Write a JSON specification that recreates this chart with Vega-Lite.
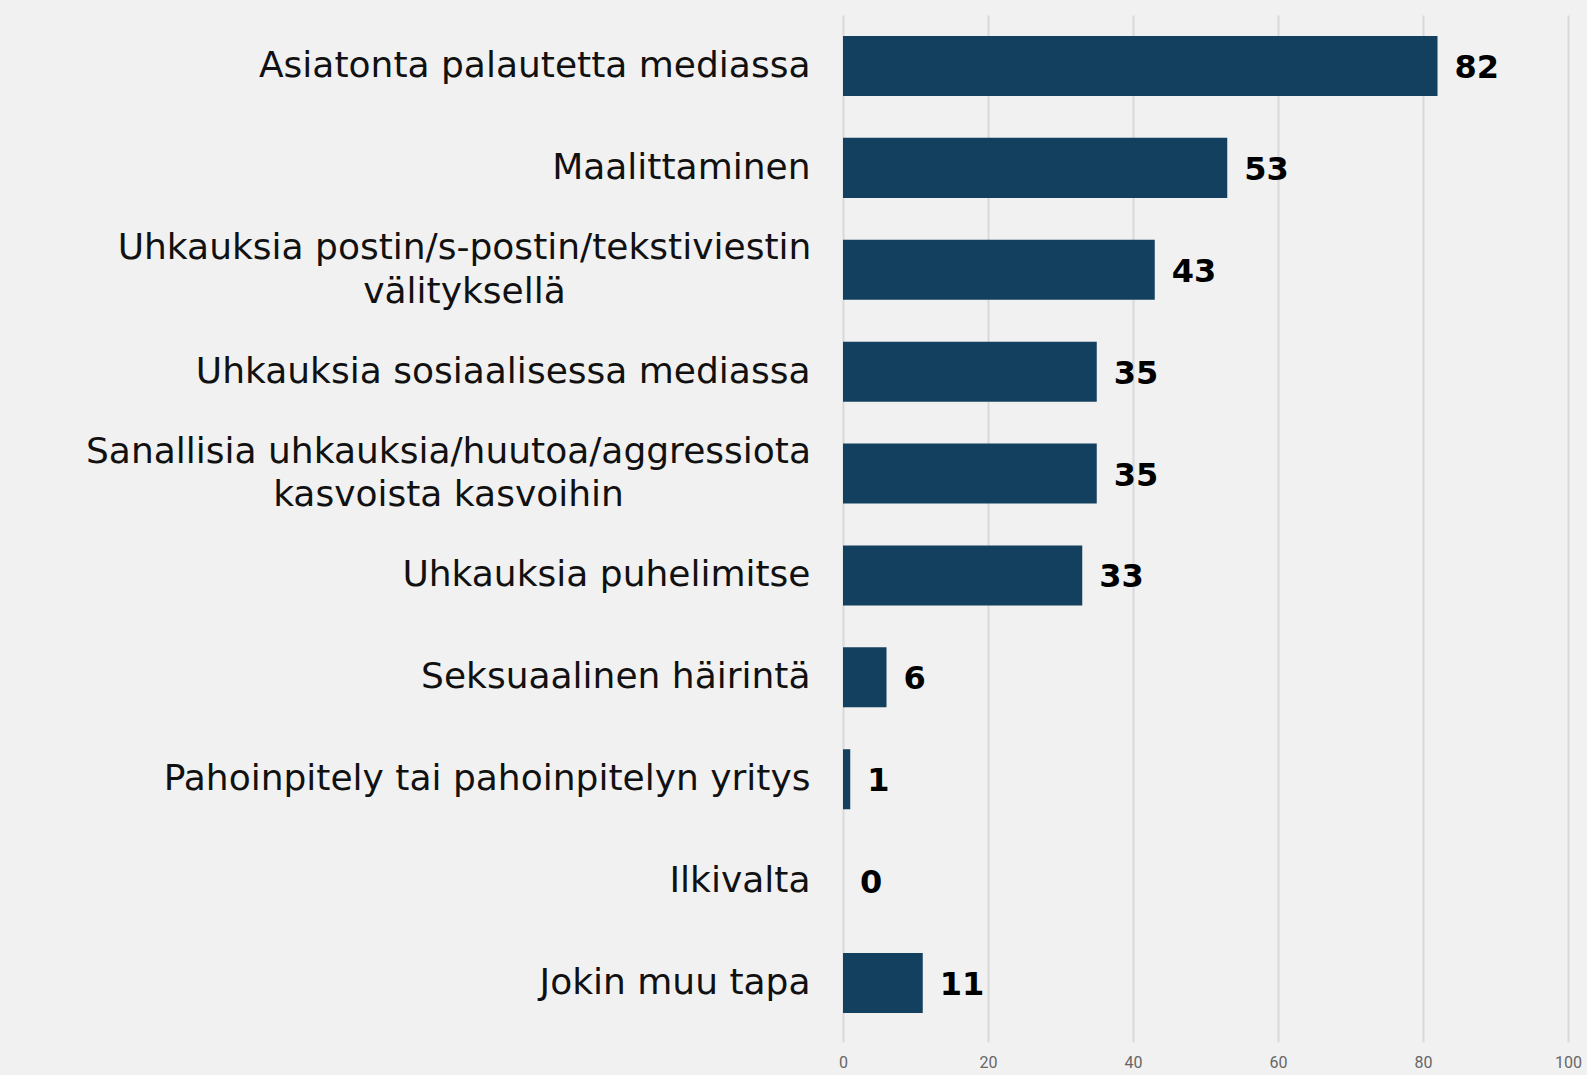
{
  "$schema": "https://vega.github.io/schema/vega-lite/v6.json",
  "width": 725,
  "height": 1027,
  "autosize": {"type": "none"},
  "padding": {"left": 843, "top": 15, "right": 19, "bottom": 33},
  "background": "#f1f1f1",
  "config": {"view": {"stroke": null}},
  "data": {
    "values": [
      {"kategoria": "Asiatonta palautetta mediassa", "arvo": 82},
      {"kategoria": "Maalittaminen", "arvo": 53},
      {"kategoria": "Uhkauksia postin/s-postin/tekstiviestin|välityksellä", "arvo": 43},
      {"kategoria": "Uhkauksia sosiaalisessa mediassa", "arvo": 35},
      {"kategoria": "Sanallisia uhkauksia/huutoa/aggressiota|kasvoista kasvoihin", "arvo": 35},
      {"kategoria": "Uhkauksia puhelimitse", "arvo": 33},
      {"kategoria": "Seksuaalinen häirintä", "arvo": 6},
      {"kategoria": "Pahoinpitely tai pahoinpitelyn yritys", "arvo": 1},
      {"kategoria": "Ilkivalta", "arvo": 0},
      {"kategoria": "Jokin muu tapa", "arvo": 11}
    ]
  },
  "encoding": {
    "y": {
      "field": "kategoria",
      "type": "nominal",
      "sort": null,
      "scale": {"paddingInner": 0.411, "paddingOuter": 0.245, "align": 0.42},
      "axis": {
        "title": null,
        "domain": false,
        "ticks": false,
        "labelExpr": "split(datum.label, '|')",
        "labelFont": "DejaVu Sans",
        "labelFontSize": 36,
        "labelColor": "#111111",
        "labelLimit": 0,
        "labelLineHeight": 43.5,
        "labelBaseline": "middle",
        "labelAlign": {"condition": {"test": "indexof(datum.value, '|') >= 0", "value": "center"}, "value": "right"},
        "labelOffset": {"condition": {"test": "indexof(datum.value, '|') >= 0", "value": -21.75}, "value": 0},
        "labelPadding": {"condition": [
          {"test": "indexof(datum.value, 'Uhkauksia postin') >= 0", "value": 379},
          {"test": "indexof(datum.value, 'Sanallisia') >= 0", "value": 395}
        ], "value": 33}
      }
    }
  },
  "layer": [
    {
      "mark": {"type": "bar", "color": "#13405f"},
      "encoding": {
        "x": {
          "field": "arvo",
          "type": "quantitative",
          "scale": {"domain": [0, 100]},
          "axis": {
            "title": null,
            "values": [0, 20, 40, 60, 80, 100],
            "grid": true,
            "gridColor": "#d9d9d9",
            "gridWidth": 2,
            "domain": false,
            "ticks": false,
            "labelFont": "Roboto",
            "labelFontSize": 16,
            "labelColor": "#666666",
            "labelPadding": 12,
            "labelFlush": false,
            "labelOverlap": false
          }
        }
      }
    },
    {
      "mark": {"type": "text", "align": "left", "baseline": "middle", "dx": 17, "dy": 2, "font": "DejaVu Sans", "fontWeight": "bold", "fontSize": 32, "color": "#000000"},
      "encoding": {
        "x": {"field": "arvo", "type": "quantitative"},
        "text": {"field": "arvo", "type": "quantitative"}
      }
    }
  ]
}
